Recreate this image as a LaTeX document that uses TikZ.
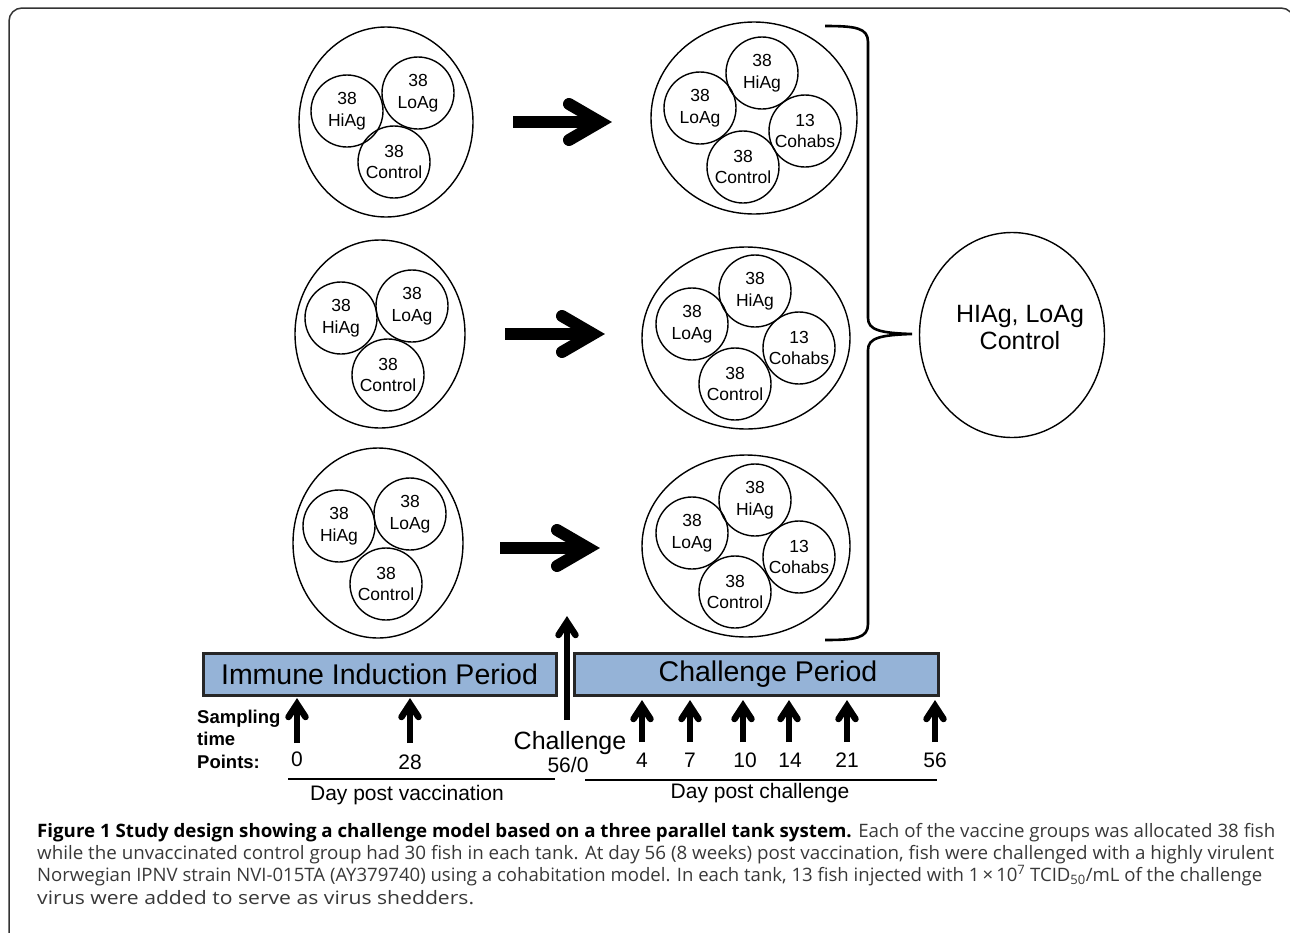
\documentclass[tikz,border=0pt]{standalone}
\usepackage{fontspec}
\setmainfont{Liberation Sans}
\newfontfamily\capfont{Open Sans}
\usepackage{graphicx}
\usetikzlibrary{calc,shapes.geometric}
\definecolor{periodblue}{HTML}{95B3D7}
\newcommand\uparr[4]{%
  \coordinate (#1b) at (#2,#4);
  \coordinate (#1t) at (#2,#3);
  \draw[smarr] (#1b) -- ($(#1t)+(0,4)$);
  \draw[smhead] ($(#1t)+(-8.5,13)$) -- (#1t) -- ($(#1t)+(8.5,13)$);
}
\newcommand\rarr[4]{%
  \coordinate (#1s) at (#2,#4);
  \coordinate (#1t) at (#3,#4);
  \draw[bigarr] (#1s) -- ($(#1t)+(-6,0)$);
  \draw[bighead] ($(#1t)+(-31,-18)$) -- (#1t) -- ($(#1t)+(-31,18)$);
}
\begin{document}
\begin{tikzpicture}[x=1pt,y=-1pt,
  tank/.style={draw, ellipse, line width=1.4pt, inner sep=0pt},
  grp/.style={draw, circle, minimum size=72pt, inner sep=0pt, line width=1.4pt, align=center, font=\fontsize{17.5}{21.5}\selectfont},
  bigarr/.style={line width=12pt},
  bighead/.style={line width=12pt, line cap=round, line join=miter},
  smarr/.style={line width=6.5pt},
  smhead/.style={line width=6.5pt, line cap=round, line join=miter},
  period/.style={draw=black!85, fill=periodblue, line width=3pt, minimum height=42pt, inner sep=0pt, font=\fontsize{28.5}{30}\selectfont},
  num/.style={font=\fontsize{21}{24}\selectfont, inner sep=0pt},
  capline/.style={anchor=base west, inner sep=0pt, font=\capfont\fontsize{18.5}{22}\selectfont, text=black!78},
]
\useasboundingbox (0,0) rectangle (1290,932);
% frame
\draw[line width=1.5pt, black!80, rounded corners=13pt] (40,945) -- (9,945) -- (9,8) -- (1294,8) -- (1294,945);

% left tanks
\node[tank, minimum width=174pt, minimum height=190pt] (L1) at (386,122) {};
\node[grp] (L1h) at (347,111) {38\\HiAg};
\node[grp] (L1l) at (418,93) {38\\LoAg};
\node[grp] (L1c) at (394,162) {38\\Control};

\node[tank, minimum width=170pt, minimum height=188pt] (L2) at (380,334) {};
\node[grp] (L2h) at (341,318) {38\\HiAg};
\node[grp] (L2l) at (412,306) {38\\LoAg};
\node[grp] (L2c) at (388,375) {38\\Control};

\node[tank, minimum width=170pt, minimum height=190pt] (L3) at (378,543) {};
\node[grp] (L3h) at (339,526) {38\\HiAg};
\node[grp] (L3l) at (410,514) {38\\LoAg};
\node[grp] (L3c) at (386,584) {38\\Control};

% right tanks
\node[tank, minimum width=206pt, minimum height=192pt] (R1) at (754,118) {};
\node[grp] (R1h) at (762,73) {38\\HiAg};
\node[grp] (R1l) at (700,108) {38\\LoAg};
\node[grp] (R1k) at (805,131) {13\\Cohabs};
\node[grp] (R1c) at (743,167) {38\\Control};

\node[tank, minimum width=208pt, minimum height=182pt] (R2) at (746,338) {};
\node[grp] (R2h) at (755,291) {38\\HiAg};
\node[grp] (R2l) at (692,324) {38\\LoAg};
\node[grp] (R2k) at (799,348) {13\\Cohabs};
\node[grp] (R2c) at (735,384) {38\\Control};

\node[tank, minimum width=208pt, minimum height=182pt] (R3) at (746,546) {};
\node[grp] (R3h) at (755,500) {38\\HiAg};
\node[grp] (R3l) at (692,533) {38\\LoAg};
\node[grp] (R3k) at (799,557) {13\\Cohabs};
\node[grp] (R3c) at (735,592) {38\\Control};

% big arrows
\rarr{A1}{513}{600}{122}
\rarr{A2}{505}{593}{334}
\rarr{A3}{500}{588}{548}

% brace and summary ellipse
\node[tank, minimum width=185pt, minimum height=205pt] (big) at (1012,335) {};
\node[align=center, inner sep=0pt, font=\fontsize{25}{27}\selectfont] (bigtxt) at (1020,328) {HIAg, LoAg\\Control};
\coordinate (brtop) at (825,26);
\coordinate (brbot) at (825,640);
\coordinate (brtip) at (912,334);
\draw[line width=2.6pt] (brtop) .. controls (856,26) and (868,28) .. (868,42) -- (868,318)
   .. controls (868,330) and (880,333) .. (brtip)
   .. controls (880,335) and (868,338) .. (868,350) -- (868,624)
   .. controls (868,638) and (856,640) .. (brbot);

% timeline boxes
\node[period, minimum width=353pt] (imm) at (379.5,674) {Immune Induction Period};
\node[period, minimum width=364pt] (chp) at (756,674) {\hspace*{24pt}Challenge Period};

% challenge arrow
\uparr{CH}{567}{622}{720}
\node[inner sep=0pt, font=\fontsize{25}{27}\selectfont] (chtxt) at (570,743) {Challenge};
\node[num] (d560) at (568,765) {56/0};

% sampling label
\node[anchor=west, align=left, inner sep=0pt, font=\bfseries\fontsize{18.5}{22.5}\selectfont] (samp) at (197,739) {Sampling\\time\\Points:};

% sampling arrows
\uparr{V0}{297}{704}{743}
\uparr{V28}{410}{704}{743}
\node[num] (n0) at (297,759) {0};
\node[num] (n28) at (410,762) {28};

\uparr{C4}{642}{706}{742}
\uparr{C7}{690}{706}{742}
\uparr{C10}{743}{706}{742}
\uparr{C14}{789}{706}{742}
\uparr{C21}{847}{706}{742}
\uparr{C56}{935}{706}{742}
\node[num] (n4) at (642,760) {4};
\node[num] (n7) at (690,760) {7};
\node[num] (n10) at (745,760) {10};
\node[num] (n14) at (790,760) {14};
\node[num] (n21) at (847,760) {21};
\node[num] (n56) at (935,760) {56};

% axis lines
\coordinate (va) at (288,779);
\coordinate (vb) at (555,779);
\coordinate (ca) at (585,780);
\coordinate (cb) at (937,780);
\draw[line width=1.3pt] (va) -- (vb);
\draw[line width=1.3pt] (ca) -- (cb);
\node[num] (dpv) at (407,795) {Day post vaccination};
\node[num] (dpc) at (760,793) {Day post challenge};

% caption
\node[capline] (cap1) at (37,837) {\resizebox{1238pt}{\height}{{\color{black}\bfseries Figure 1 Study design showing a challenge model based on a three parallel tank system.} Each of the vaccine groups was allocated 38 fish}};
\node[capline] (cap2) at (37,859) {\resizebox{1237pt}{\height}{while the unvaccinated control group had 30 fish in each tank. At day 56 (8 weeks) post vaccination, fish were challenged with a highly virulent}};
\node[capline] (cap3) at (37,881) {\resizebox{1225pt}{\height}{Norwegian IPNV strain NVI-015TA (AY379740) using a cohabitation model. In each tank, 13 fish injected with 1\,×\,10\textsuperscript{7} TCID\textsubscript{50}/mL of the challenge}};
\node[capline] (cap4) at (37,904) {\resizebox{437pt}{\height}{virus were added to serve as virus shedders.}};
\end{tikzpicture}
\end{document}
